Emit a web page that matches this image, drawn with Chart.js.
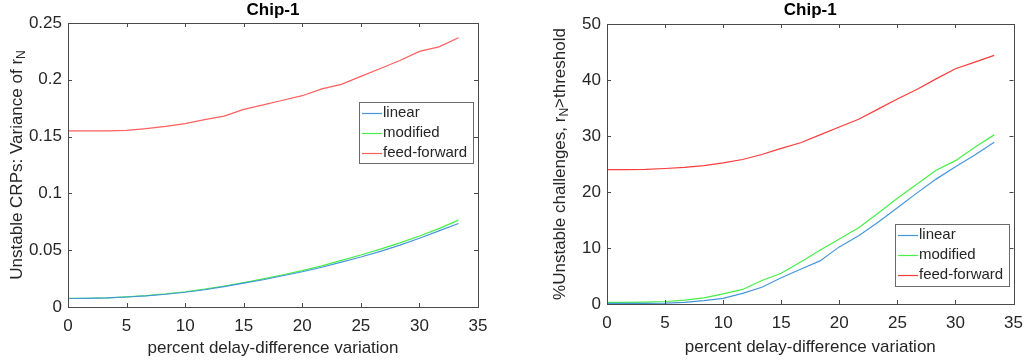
<!DOCTYPE html>
<html><head><meta charset="utf-8">
<script src="https://cdn.jsdelivr.net/npm/chart.js@4"></script>
<style>
html,body{margin:0;padding:0;background:#fff;}
body{width:1032px;height:362px;overflow:hidden;position:relative;}
.box{position:absolute;top:0;width:516px;height:362px;}
</style></head><body>
<div class="box" style="left:0"><canvas id="c1"></canvas></div>
<div class="box" style="left:516px"><canvas id="c2"></canvas></div>
<script>
// ---- data ----
const xValues = [0, 1.667, 3.333, 5, 6.667, 8.333, 10, 11.667, 13.333, 15, 16.667, 18.333, 20, 21.667, 23.333, 25, 26.667, 28.333, 30, 31.667, 33.333];
const seriesNames = ['linear', 'modified', 'feed-forward'];

// left: variance of r_N
const varLinear   = [0.0075, 0.0076, 0.0080, 0.0088, 0.0098, 0.0112, 0.0130, 0.0152, 0.0180, 0.0210, 0.0240, 0.0275, 0.0310, 0.0350, 0.0395, 0.0440, 0.0490, 0.0545, 0.0605, 0.0670, 0.0735];
const varModified = [0.0076, 0.0077, 0.0081, 0.0090, 0.0100, 0.0115, 0.0134, 0.0157, 0.0185, 0.0215, 0.0248, 0.0284, 0.0320, 0.0362, 0.0410, 0.0458, 0.0510, 0.0565, 0.0625, 0.0690, 0.0765];
const varFeedFwd  = [0.155, 0.155, 0.155, 0.1555, 0.157, 0.159, 0.1615, 0.165, 0.168, 0.174, 0.178, 0.182, 0.186, 0.192, 0.196, 0.203, 0.210, 0.217, 0.225, 0.229, 0.237];

// right: % unstable challenges
const pctLinear   = [0.1, 0.1, 0.1, 0.15, 0.3, 0.6, 1.0, 1.9, 3.0, 4.7, 6.2, 7.7, 10.2, 12.2, 14.6, 17.2, 19.8, 22.3, 24.5, 26.6, 28.9];
const pctModified = [0.3, 0.3, 0.35, 0.45, 0.7, 1.1, 1.8, 2.6, 4.2, 5.5, 7.5, 9.6, 11.6, 13.6, 16.2, 18.9, 21.4, 23.9, 25.6, 28.0, 30.2];
const pctFeedFwd  = [24.0, 24.0, 24.05, 24.2, 24.4, 24.7, 25.2, 25.8, 26.7, 27.8, 28.8, 30.2, 31.6, 33.0, 34.8, 36.6, 38.3, 40.2, 42.0, 43.2, 44.4];

// ticks
const xTicks = [0, 5, 10, 15, 20, 25, 30, 35];
const yTicksLeft = [0, 0.05, 0.1, 0.15, 0.2, 0.25];
const yTickLabelsLeft = ['0', '0.05', '0.1', '0.15', '0.2', '0.25'];
const yTicksRight = [0, 10, 20, 30, 40, 50];
const yTickLabelsRight = ['0', '10', '20', '30', '40', '50'];

const titleText = 'Chip-1';
const xTitleText = 'percent delay-difference variation';

// ---- styling ----
const FONT = '"Liberation Sans", Arial, Helvetica, sans-serif';
const AXIS = '#4a4a4a';
const TXT = '#262626';
const colorsLeft = ['rgb(70,150,220)', 'rgb(70,240,70)', 'rgb(255,95,95)'];
const colorsRight = ['rgb(70,150,220)', 'rgb(70,240,70)', 'rgb(250,60,60)'];

function pts(ys){ return xValues.map((x,i)=>({x:x,y:ys[i]})); }

function deco(cfg){
  return {
    id:'deco',
    afterDraw(chart){
      const ctx = chart.ctx, a = chart.chartArea;
      const xs = chart.scales.x, ys = chart.scales.y;
      ctx.save();
      // box
      ctx.strokeStyle = AXIS; ctx.lineWidth = 1;
      ctx.strokeRect(Math.round(a.left)+0.5, Math.round(a.top)+0.5, Math.round(a.right-a.left), Math.round(a.bottom-a.top));
      // inward ticks
      const tl = 4;
      ctx.beginPath();
      xTicks.forEach(v=>{
        const p = Math.round(xs.getPixelForValue(v))+0.5;
        ctx.moveTo(p, a.bottom); ctx.lineTo(p, a.bottom-tl);
        ctx.moveTo(p, a.top); ctx.lineTo(p, a.top+tl);
      });
      cfg.yTicks.forEach(v=>{
        const p = Math.round(ys.getPixelForValue(v))+0.5;
        ctx.moveTo(a.left, p); ctx.lineTo(a.left+tl, p);
        ctx.moveTo(a.right, p); ctx.lineTo(a.right-tl, p);
      });
      ctx.stroke();
      // title
      ctx.fillStyle = '#000';
      ctx.font = 'bold 17px ' + FONT;
      ctx.textAlign = 'center'; ctx.textBaseline = 'middle';
      ctx.fillText(titleText, (a.left+a.right)/2, 10);
      // x title
      ctx.fillStyle = TXT;
      ctx.font = '17px ' + FONT;
      ctx.fillText(xTitleText, (a.left+a.right)/2, cfg.xTitleY);
      // y title with subscript
      ctx.save();
      ctx.translate(cfg.yTitleX, (a.top+a.bottom)/2);
      ctx.rotate(-Math.PI/2);
      ctx.textBaseline = 'middle'; ctx.textAlign = 'left';
      ctx.font = '17px ' + FONT;
      const w1 = ctx.measureText(cfg.yPre).width;
      ctx.font = '12px ' + FONT;
      const w2 = ctx.measureText('N').width;
      ctx.font = '17px ' + FONT;
      const w3 = ctx.measureText(cfg.yPost).width;
      let x0 = -(w1+w2+w3)/2;
      ctx.fillText(cfg.yPre, x0, 0);
      ctx.font = '12px ' + FONT;
      ctx.fillText('N', x0+w1, 5);
      ctx.font = '17px ' + FONT;
      ctx.fillText(cfg.yPost, x0+w1+w2, 0);
      ctx.restore();
      // legend
      const L = cfg.legend;
      ctx.fillStyle = '#fff';
      ctx.fillRect(L.x, L.y, L.w, L.h);
      ctx.strokeStyle = '#6a6a6a';
      ctx.strokeRect(L.x+0.5, L.y+0.5, L.w, L.h);
      ctx.font = '15px ' + FONT;
      ctx.textAlign = 'left'; ctx.textBaseline = 'middle';
      seriesNames.forEach((n,i)=>{
        const yy = L.y + L.rows[i];
        ctx.strokeStyle = cfg.colors[i]; ctx.lineWidth = 1.2;
        ctx.beginPath(); ctx.moveTo(L.x+3, Math.round(yy)+0.5); ctx.lineTo(L.x+23, Math.round(yy)+0.5); ctx.stroke();
        ctx.fillStyle = TXT;
        ctx.fillText(n, L.x+24, yy);
      });
      ctx.restore();
    }
  };
}

function makeChart(id, data, colors, yMax, yTicks, yLabels, pad, yW, xH, cfg){
  cfg.yTicks = yTicks; cfg.colors = colors;
  return new Chart(document.getElementById(id), {
    type:'scatter',
    data:{datasets: seriesNames.map((n,i)=>({
      label:n, data:pts(data[i]), showLine:true, borderColor:colors[i], backgroundColor:colors[i],
      borderWidth:1.2, pointRadius:0, tension:0, clip:false
    }))},
    options:{
      responsive:true, maintainAspectRatio:false, animation:false,
      layout:{padding:pad},
      plugins:{legend:{display:false}, title:{display:false}, tooltip:{enabled:false}},
      scales:{
        x:{type:'linear', min:0, max:35,
          grid:{display:false, drawTicks:false}, border:{display:false},
          afterBuildTicks(s){ s.ticks = xTicks.map(v=>({value:v})); },
          afterFit(s){ s.height = xH; },
          ticks:{padding:9, color:TXT, font:{family:FONT, size:17}, maxRotation:0, autoSkip:false,
            callback:(v)=>String(v)}
        },
        y:{type:'linear', min:0, max:yMax,
          grid:{display:false, drawTicks:false}, border:{display:false},
          afterBuildTicks(s){ s.ticks = yTicks.map(v=>({value:v})); },
          afterFit(s){ s.width = yW; },
          ticks:{padding:6, color:TXT, font:{family:FONT, size:17}, autoSkip:false,
            callback:(v)=>{ const i = yTicks.indexOf(v); return i>=0 ? yLabels[i] : ''; }}
        }
      }
    },
    plugins:[deco(cfg)]
  });
}

makeChart('c1', [varLinear, varModified, varFeedFwd], colorsLeft, 0.25, yTicksLeft, yTickLabelsLeft,
  {left:0, top:23, right:38, bottom:0}, 68, 55,
  {xTitleY:348, yTitleX:17, yPre:'Unstable CRPs: Variance of r', yPost:'',
   legend:{x:359, y:102, w:114, h:61, rows:[11,31,51]}});

makeChart('c2', [pctLinear, pctModified, pctFeedFwd], colorsRight, 50, yTicksRight, yTickLabelsRight,
  {left:0, top:24, right:15, bottom:0}, 91, 58,
  {xTitleY:347, yTitleX:44, yPre:'%Unstable challenges, r', yPost:'>threshold',
   legend:{x:379, y:224, w:114, h:62, rows:[11,31,51]}});
</script>
</body></html>
